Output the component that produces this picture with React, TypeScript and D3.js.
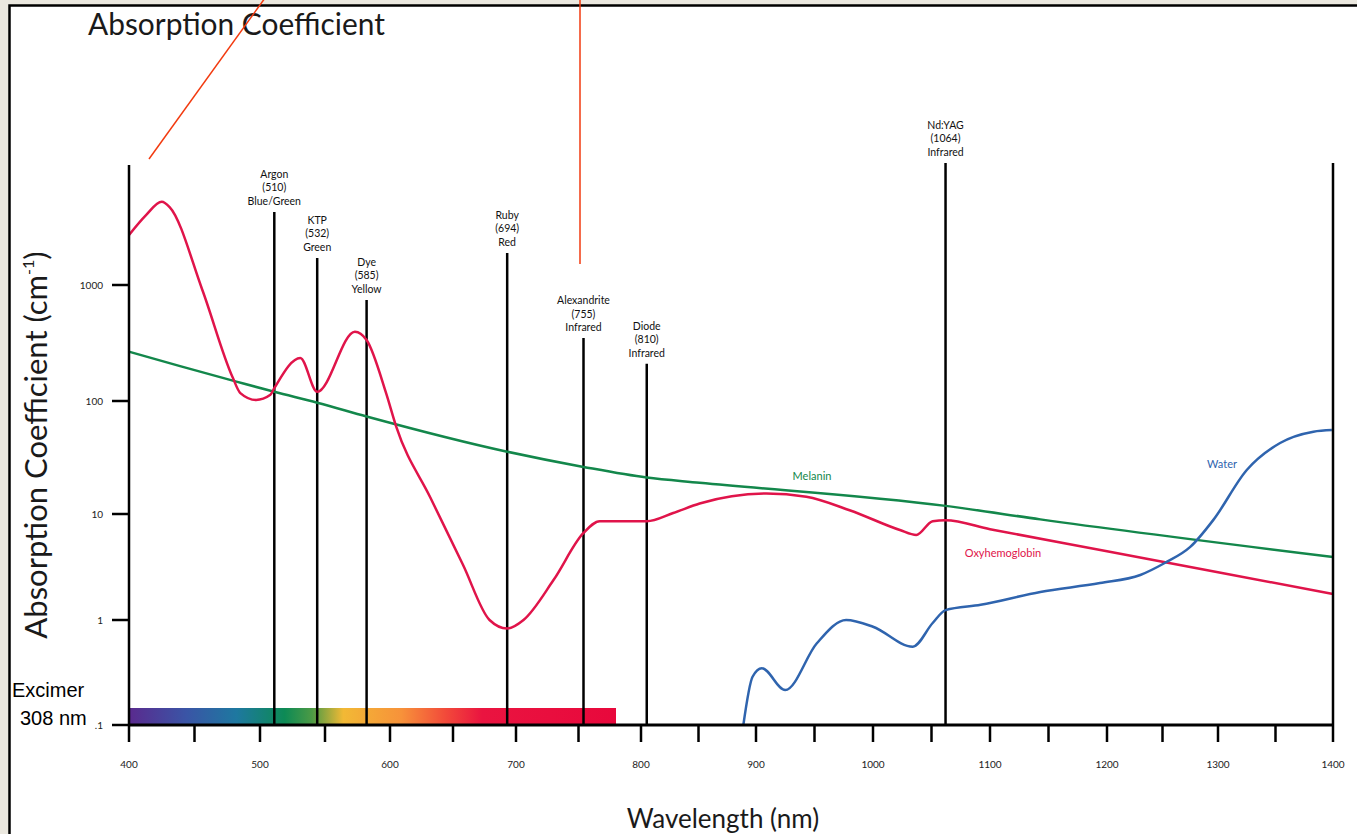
import React, { useEffect, useRef } from "react";
import * as d3 from "d3";

// axis ticks
const xTicks = [400, 500, 600, 700, 800, 900, 1000, 1100, 1200, 1300, 1400];
const xMinorTicks = [450, 550, 650, 750, 850, 950, 1050, 1150, 1250, 1350];
const yTicks = [0.1, 1, 10, 100, 1000];
const yTickLabels = [".1", "1", "10", "100", "1000"];

// oxyhemoglobin (nm, cm-1)
const hbNm = [400, 413, 425, 431, 456, 479, 485, 497, 508, 511, 531, 544, 573, 582, 597, 605, 632, 658, 679, 693, 706, 730, 754, 767, 805, 828, 851, 909, 943, 980, 1023, 1037, 1051, 1062, 1100, 1200, 1300, 1400];
const hbVal = [2700, 4010, 5220, 4700, 906, 161, 117, 102, 113, 129, 235, 120, 396, 336, 117, 59, 14, 3.3, 1.0, 0.83, 1.0, 2.38, 6.62, 8.55, 8.55, 10.2, 12.4, 15.2, 14.2, 10.8, 7.06, 6.34, 8.55, 8.73, 7.19, 4.45, 2.82, 1.76];

// melanin
const melNm = [400, 439, 482, 511, 544, 582, 693, 754, 805, 851, 1062, 1143, 1400];
const melVal = [266, 200, 147, 120, 96.6, 73, 35.6, 26.1, 21, 18.9, 11.8, 8.9, 3.93];

// water
const waterNm = [889, 897, 905, 925, 952, 977, 1000, 1034, 1051, 1062, 1092, 1143, 1194, 1230, 1252, 1275, 1296, 1325, 1354, 1383, 1399];
const waterVal = [0.1, 0.288, 0.347, 0.215, 0.6, 1.0, 0.863, 0.557, 0.936, 1.24, 1.39, 1.84, 2.23, 2.66, 3.45, 4.89, 8.85, 24.5, 42.5, 53.5, 55.3];

// lasers
const laserNames = ["Argon", "KTP", "Dye", "Ruby", "Alexandrite", "Diode", "Nd:YAG"];
const laserCodes = ["(510)", "(532)", "(585)", "(694)", "(755)", "(810)", "(1064)"];
const laserBands = ["Blue/Green", "Green", "Yellow", "Red", "Infrared", "Infrared", "Infrared"];
const laserAt = [511, 544, 582, 693, 754, 805, 1062];
const laserTop = [4260, 1710, 743, 1890, 349, 209, 11270];

// visible spectrum bar
const spectrumNm = [400, 444, 482, 519, 540, 564, 609, 644, 673, 780];
const spectrumColours = ["#5a2a8e", "#3a55a6", "#1e78a0", "#0d8a55", "#4c9a45", "#f2b935", "#f7923a", "#f24a3a", "#ea1440", "#e8083c"];

const axisTop = 10800;

export default function App() {
    const ref = useRef<SVGSVGElement>(null);

    useEffect(() => {
        const svg = d3.select(ref.current);
        svg.selectAll("*").remove();

        const x = d3.scaleLinear()
            .domain(xTicks)
            .range([129, 260, 390, 516, 641, 756, 873, 990, 1107, 1218, 1333]);
        const y = d3.scaleLog()
            .domain(yTicks)
            .range([725, 620, 514, 401, 285]);

        const small = "Lato, 'Noto Sans', sans-serif";

        // frame
        svg.append("rect").attr("width", 1357).attr("height", 834).attr("fill", "#ebe8df");
        svg.append("rect")
            .attr("x", 9.5).attr("y", 5.5).attr("width", 1400).attr("height", 900)
            .attr("fill", "#fff").attr("stroke", "#000").attr("stroke-width", 2.5);

        // title
        svg.append("text")
            .attr("x", 88).attr("y", 35)
            .attr("font-family", small).attr("font-size", 31)
            .attr("textLength", 297).attr("lengthAdjust", "spacingAndGlyphs")
            .attr("fill", "#1a1a1a")
            .text("Absorption Coefficient");

        // spectrum bar
        const grad = svg.append("defs").append("linearGradient")
            .attr("id", "spec").attr("gradientUnits", "userSpaceOnUse")
            .attr("x1", x(400)).attr("x2", x(780)).attr("y1", 0).attr("y2", 0);
        spectrumNm.forEach((nm, i) => {
            grad.append("stop")
                .attr("offset", (x(nm) - x(400)) / (x(780) - x(400)))
                .attr("stop-color", spectrumColours[i]);
        });
        svg.append("rect")
            .attr("x", x(400)).attr("y", y(0.1) - 17)
            .attr("width", x(780) - x(400)).attr("height", 17)
            .attr("fill", "url(#spec)");

        // laser lines
        laserAt.forEach((nm, i) => {
            const lx = x(nm);
            const top = y(laserTop[i]);
            svg.append("line")
                .attr("x1", lx).attr("x2", lx).attr("y1", top).attr("y2", y(0.1))
                .attr("stroke", "#000").attr("stroke-width", 2.5);
            const t = svg.append("text")
                .attr("text-anchor", "middle")
                .attr("font-family", small).attr("font-size", 10.5)
                .attr("fill", "#111");
            [laserNames[i], laserCodes[i], laserBands[i]].forEach((s, j) => {
                t.append("tspan").attr("x", lx).attr("y", top - 7 - (2 - j) * 13.5).text(s);
            });
        });

        // curves
        const line = d3.line<[number, number]>()
            .x(d => x(d[0]))
            .y(d => y(d[1]))
            .curve(d3.curveMonotoneX);

        const drawCurve = (nm: number[], val: number[], colour: string) => {
            svg.append("path")
                .attr("d", line(nm.map((n, i) => [n, val[i]] as [number, number])))
                .attr("fill", "none")
                .attr("stroke", colour)
                .attr("stroke-width", 2.5);
        };
        drawCurve(melNm, melVal, "#13874b");
        drawCurve(hbNm, hbVal, "#e0144a");
        drawCurve(waterNm, waterVal, "#2f64ae");

        svg.append("text").attr("x", 812).attr("y", 480)
            .attr("text-anchor", "middle").attr("font-family", small).attr("font-size", 11)
            .attr("fill", "#13874b").text("Melanin");
        svg.append("text").attr("x", 1003).attr("y", 557)
            .attr("text-anchor", "middle").attr("font-family", small).attr("font-size", 11)
            .attr("fill", "#e0144a").text("Oxyhemoglobin");
        svg.append("text").attr("x", 1222).attr("y", 468)
            .attr("text-anchor", "middle").attr("font-family", small).attr("font-size", 11)
            .attr("fill", "#2f64ae").text("Water");

        // axes
        svg.append("line")
            .attr("x1", x(400)).attr("x2", x(400)).attr("y1", y(axisTop)).attr("y2", y(0.1))
            .attr("stroke", "#000").attr("stroke-width", 2.5);
        svg.append("line")
            .attr("x1", x(1400)).attr("x2", x(1400)).attr("y1", y(axisTop) - 2).attr("y2", y(0.1))
            .attr("stroke", "#000").attr("stroke-width", 2.5);
        svg.append("line")
            .attr("x1", x(400)).attr("x2", x(1400)).attr("y1", y(0.1)).attr("y2", y(0.1))
            .attr("stroke", "#000").attr("stroke-width", 3);

        xTicks.concat(xMinorTicks).forEach(v => {
            svg.append("line")
                .attr("x1", x(v)).attr("x2", x(v)).attr("y1", y(0.1)).attr("y2", y(0.1) + 17)
                .attr("stroke", "#000").attr("stroke-width", 2.5);
        });
        xTicks.forEach(v => {
            svg.append("text")
                .attr("x", x(v)).attr("y", 768)
                .attr("text-anchor", "middle")
                .attr("font-family", small).attr("font-size", 10)
                .attr("fill", "#222")
                .text(v);
        });

        yTicks.forEach((v, i) => {
            svg.append("line")
                .attr("x1", x(400) - 17).attr("x2", x(400)).attr("y1", y(v)).attr("y2", y(v))
                .attr("stroke", "#000").attr("stroke-width", 2.5);
            svg.append("text")
                .attr("x", 103).attr("y", y(v) + 4)
                .attr("text-anchor", "end")
                .attr("font-family", small).attr("font-size", 10)
                .attr("fill", "#222")
                .text(yTickLabels[i]);
        });

        // axis titles
        const yt = svg.append("text")
            .attr("transform", "translate(47,445) rotate(-90)")
            .attr("text-anchor", "middle")
            .attr("font-family", small).attr("font-size", 31)
            .attr("fill", "#1a1a1a");
        yt.append("tspan").text("Absorption Coefficient (cm");
        yt.append("tspan").attr("font-size", 16).attr("dy", -13).text("-1");
        yt.append("tspan").attr("dy", 13).text(")");

        svg.append("text")
            .attr("x", 723).attr("y", 828)
            .attr("text-anchor", "middle")
            .attr("font-family", small).attr("font-size", 26)
            .attr("fill", "#1a1a1a")
            .text("Wavelength (nm)");

        // Excimer note
        svg.append("text").attr("x", 12).attr("y", 697)
            .attr("font-family", "'Liberation Sans', Arial, sans-serif").attr("font-size", 20)
            .attr("fill", "#000").text("Excimer");
        svg.append("text").attr("x", 20).attr("y", 725)
            .attr("font-family", "'Liberation Sans', Arial, sans-serif").attr("font-size", 20)
            .attr("fill", "#000").text("308 nm");

        // annotation strokes
        svg.append("line")
            .attr("x1", 149).attr("y1", 159).attr("x2", 265).attr("y2", -2)
            .attr("stroke", "#f23a0f").attr("stroke-width", 1.5);
        svg.append("line")
            .attr("x1", 580).attr("y1", -2).attr("x2", 580).attr("y2", 264)
            .attr("stroke", "#f23a0f").attr("stroke-width", 1.5);
    }, []);

    return (
        <svg
            ref={ref}
            width={1357}
            height={834}
            style={{ position: "absolute", left: 0, top: 0, display: "block" }}
        />
    );
}
